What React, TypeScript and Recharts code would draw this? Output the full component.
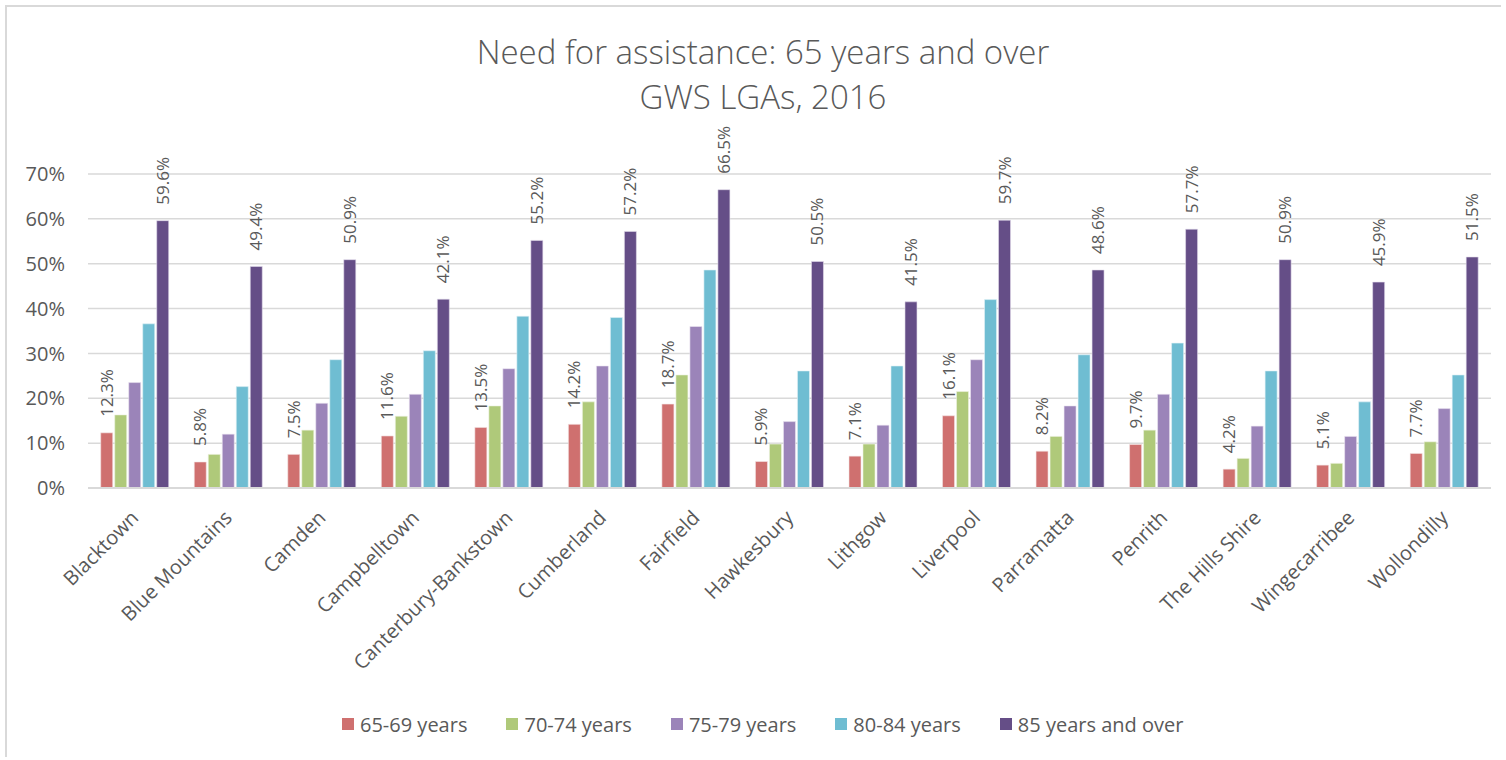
import React from "react";
import { BarChart, Bar, XAxis, YAxis, CartesianGrid, Legend, LabelList } from "recharts";

const categories = [
  "Blacktown",
  "Blue Mountains",
  "Camden",
  "Campbelltown",
  "Canterbury-Bankstown",
  "Cumberland",
  "Fairfield",
  "Hawkesbury",
  "Lithgow",
  "Liverpool",
  "Parramatta",
  "Penrith",
  "The Hills Shire",
  "Wingecarribee",
  "Wollondilly",
];

const age6569 = [12.3, 5.8, 7.5, 11.6, 13.5, 14.2, 18.7, 5.9, 7.1, 16.1, 8.2, 9.7, 4.2, 5.1, 7.7];
const age7074 = [16.3, 7.5, 12.9, 16.0, 18.3, 19.2, 25.2, 9.8, 9.8, 21.5, 11.5, 12.9, 6.6, 5.5, 10.3];
const age7579 = [23.5, 12.0, 18.9, 20.9, 26.6, 27.2, 36.0, 14.8, 14.0, 28.6, 18.3, 20.9, 13.8, 11.5, 17.7];
const age8084 = [36.6, 22.6, 28.6, 30.6, 38.3, 38.0, 48.6, 26.1, 27.2, 42.0, 29.7, 32.3, 26.1, 19.2, 25.2];
const age85plus = [59.6, 49.4, 50.9, 42.1, 55.2, 57.2, 66.5, 50.5, 41.5, 59.7, 48.6, 57.7, 50.9, 45.9, 51.5];

const yTicks = [0, 10, 20, 30, 40, 50, 60, 70];

const data = categories.map((lga, i) => ({
  lga,
  a6569: age6569[i],
  a7074: age7074[i],
  a7579: age7579[i],
  a8084: age8084[i],
  a85: age85plus[i],
}));

const FONT = "'Open Sans', 'Noto Sans', sans-serif";
const GREY = "#595959";

// rotated value label sitting just above the bar
const VerticalLabel = (props: any) => {
  const { x, y, width, value } = props;
  const cx = Number(x) + Number(width) / 2 + 6;
  const cy = Number(y) - 16;
  return (
    <text
      x={cx}
      y={cy}
      transform={`rotate(-90, ${cx}, ${cy})`}
      textAnchor="start"
      fontSize={17}
      fontFamily={FONT}
      fill={GREY}
    >
      {Number(value).toFixed(1)}%
    </text>
  );
};

const SlantTick = (props: any) => {
  const { x, y, payload } = props;
  return (
    <g transform={`translate(${x + 5},${y + 29})`}>
      <text transform="rotate(-45)" textAnchor="end" fontSize={20} fontFamily={FONT} fill={GREY}>
        {payload.value}
      </text>
    </g>
  );
};

const renderLegend = (props: any) => {
  const { payload } = props;
  return (
    <div
      style={{
        display: "flex",
        paddingLeft: 342,
        height: 28,
        alignItems: "center",
        fontFamily: FONT,
        fontSize: 20,
        color: GREY,
      }}
    >
      {payload.map((entry: any) => (
        <div key={entry.value} style={{ display: "flex", alignItems: "center", marginRight: 39 }}>
          <span style={{ width: 12, height: 12, background: entry.color, marginRight: 6 }} />
          <span style={{ whiteSpace: "nowrap" }}>{entry.value}</span>
        </div>
      ))}
    </div>
  );
};

export default function App() {
  return (
    <div style={{ position: "absolute", left: 0, top: 0, width: 1506, height: 760, background: "#fff" }}>
      <div
        style={{
          position: "absolute",
          left: 5,
          top: 5,
          width: 1494,
          height: 750,
          borderLeft: "2px solid #d9d9d9",
          borderTop: "2px solid #d9d9d9",
        }}
      />
      <div
        style={{
          position: "absolute",
          left: 10,
          top: 29,
          width: 1506,
          textAlign: "center",
          fontFamily: FONT,
          fontWeight: 300,
          fontSize: 33,
          lineHeight: "45px",
          color: GREY,
        }}
      >
        Need for assistance: 65 years and over
        <br />
        GWS LGAs, 2016
      </div>
      <div style={{ position: "absolute", left: 0, top: 0 }}>
        <BarChart
          width={1506}
          height={760}
          data={data}
          margin={{ top: 174, right: 15, left: 0, bottom: 0 }}
          barCategoryGap="13.6%"
          barGap={2}
        >
          <CartesianGrid vertical={false} stroke="#d9d9d9" strokeWidth={1.5} />
          <XAxis
            dataKey="lga"
            interval={0}
            height={244}
            tickLine={false}
            tickSize={0}
            axisLine={{ stroke: "#d9d9d9", strokeWidth: 2 }}
            tick={<SlantTick />}
          />
          <YAxis
            width={88}
            domain={[0, 70]}
            ticks={yTicks}
            tickFormatter={(v: number) => `${v}%`}
            axisLine={false}
            tickLine={false}
            tickSize={0}
            tickMargin={23}
            tick={{ fontSize: 20, fontFamily: FONT, fill: GREY }}
          />
          <Legend verticalAlign="bottom" wrapperStyle={{ bottom: 22 }} content={renderLegend} />
          <Bar dataKey="a6569" name="65-69 years" fill="#CF706F" stroke="#f4e4e4" strokeWidth={0.6} isAnimationActive={false}>
            <LabelList dataKey="a6569" content={<VerticalLabel />} />
          </Bar>
          <Bar dataKey="a7074" name="70-74 years" fill="#AFC97A" stroke="#eef4e2" strokeWidth={0.6} isAnimationActive={false} />
          <Bar dataKey="a7579" name="75-79 years" fill="#9B84B9" stroke="#ece6f2" strokeWidth={0.6} isAnimationActive={false} />
          <Bar dataKey="a8084" name="80-84 years" fill="#6FBDD2" stroke="#e2f2f6" strokeWidth={0.6} isAnimationActive={false} />
          <Bar dataKey="a85" name="85 years and over" fill="#654E87" stroke="#e4deec" strokeWidth={0.6} isAnimationActive={false}>
            <LabelList dataKey="a85" content={<VerticalLabel />} />
          </Bar>
        </BarChart>
      </div>
    </div>
  );
}
